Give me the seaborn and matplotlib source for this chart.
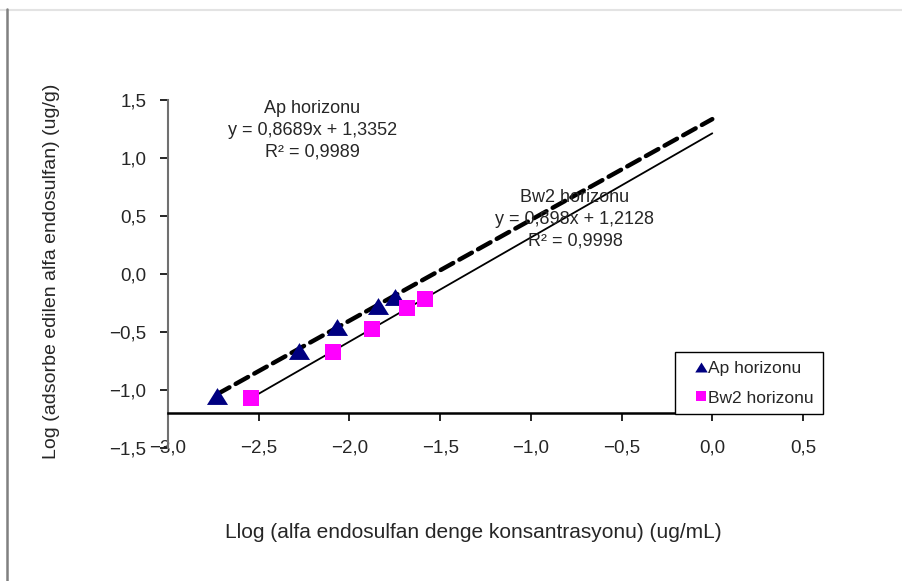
import matplotlib
matplotlib.use("Agg")
import matplotlib.pyplot as plt
from matplotlib.lines import Line2D
import numpy as np
import pandas as pd
import seaborn as sns

# ---- data ----
ap_x = [-2.73, -2.28, -2.07, -1.84, -1.75]
ap_y = [-1.05, -0.66, -0.46, -0.28, -0.20]
bw_x = [-2.54, -2.09, -1.873, -1.68, -1.586]
bw_y = [-1.07, -0.67, -0.47, -0.295, -0.215]
series = ["Ap horizonu", "Bw2 horizonu"]
slopes = [0.8689, 0.898]
intercepts = [1.3352, 1.2128]
eq_texts = ["Ap horizonu\ny = 0,8689x + 1,3352\nR² = 0,9989",
            "Bw2 horizonu\ny = 0,898x + 1,2128\nR² = 0,9998"]
x_ticks = [-3.0, -2.5, -2.0, -1.5, -1.0, -0.5, 0.0, 0.5]
y_ticks = [-1.5, -1.0, -0.5, 0.0, 0.5, 1.0, 1.5]
x_label = "Llog (alfa endosulfan denge konsantrasyonu) (ug/mL)"
y_label = "Log (adsorbe edilen alfa endosulfan) (ug/g)"

ap_df = pd.DataFrame({"x": ap_x, "y": ap_y})
bw_df = pd.DataFrame({"x": bw_x, "y": bw_y})

sns.set_style("white")
plt.rcParams["font.family"] = ["Liberation Sans", "DejaVu Sans"]
plt.rcParams["font.size"] = 13

fig = plt.figure(figsize=(9.02, 5.81), dpi=100)
ax = fig.add_axes([168 / 902, 1 - 448 / 581, 635 / 902, 348 / 581])

tri = [(-1, -0.8), (1, -0.8), (0, 0.8), (-1, -0.8)]
colors = ["#000080", "#FF00FF"]
markers = [tri, "s"]

# trend lines (forward to x = 0)
starts = [min(ap_x), min(bw_x)]
styles = [dict(lw=3.2, ls=(0, (3.2, 1.6)), dash_capstyle="round"), dict(lw=1.3, ls="-")]
for s, m, b, st in zip(starts, slopes, intercepts, styles):
    xs = np.array([s, 0.0])
    ax.plot(xs, m * xs + b, color="black", zorder=2, **st)

sns.scatterplot(data=ap_df, x="x", y="y", color=colors[0], marker=tri,
                s=230, linewidth=0, legend=False, ax=ax, zorder=3)
sns.scatterplot(data=bw_df, x="x", y="y", color=colors[1], marker="s",
                s=130, linewidth=0, legend=False, ax=ax, zorder=3)

ax.text(-2.204, 1.241, eq_texts[0], ha="center", va="center",
        fontsize=13, linespacing=1.38)
ax.text(-0.757, 0.474, eq_texts[1], ha="center", va="center",
        fontsize=13, linespacing=1.38)

ax.set_xlim(-3.0, 0.5)
ax.set_ylim(-1.5, 1.5)
ax.set_xticks(x_ticks)
ax.set_yticks(y_ticks)
ax.set_xticklabels([f"{v:.1f}".replace(".", ",").replace("-", "−") for v in x_ticks])
ax.set_yticklabels([f"{v:.1f}".replace(".", ",").replace("-", "−") for v in y_ticks])
ax.set_xlabel("")
ax.set_ylabel("")

for sp in ["top", "right"]:
    ax.spines[sp].set_visible(False)
ax.spines["left"].set_color("#707070")
ax.spines["left"].set_linewidth(1.5)
ax.spines["bottom"].set_position(("data", -1.2))
ax.spines["bottom"].set_color("black")
ax.spines["bottom"].set_linewidth(1.8)

ax.tick_params(axis="y", direction="out", length=5.5, width=1.2, color="black",
               left=True, pad=10, labelsize=13.5)
ax.tick_params(axis="x", direction="out", length=5.5, width=1.2, color="black",
               bottom=True, pad=13.5, labelsize=13.5)

ax.set_xlabel(x_label, fontsize=15)
ax.set_ylabel(y_label, fontsize=14)
ax.xaxis.set_label_coords((473 - 168) / 635, (448 - 523) / 348)
ax.yaxis.set_label_coords((60 - 168) / 635, (448 - 271) / 348)

handles = [Line2D([], [], ls="none", marker=markers[0], color=colors[0],
                  markersize=9, markeredgewidth=0),
           Line2D([], [], ls="none", marker=markers[1], color=colors[1],
                  markersize=7, markeredgewidth=0)]
leg = ax.legend(handles, series, loc="upper left",
                bbox_to_anchor=(675 / 902, 1 - 352 / 581),
                bbox_transform=fig.transFigure, borderaxespad=0,
                frameon=True, fancybox=False, shadow=False,
                handlelength=2.0, handletextpad=-0.58, labelspacing=0.84,
                borderpad=0.5, fontsize=12.5)
leg.get_frame().set_edgecolor("black")
leg.get_frame().set_linewidth(1.0)
leg.get_frame().set_facecolor("white")
leg.get_frame().set_alpha(1)
leg.set_zorder(10)

# frame lines of the original image
fig.add_artist(Line2D([0, 1], [1 - 9.5 / 581, 1 - 9.5 / 581],
                      transform=fig.transFigure, color="#e3e3e3", lw=1.5))
fig.add_artist(Line2D([6.5 / 902, 6.5 / 902], [0, 1 - 9 / 581],
                      transform=fig.transFigure, color="#808080", lw=1.8))

fig.savefig("out.png", dpi=100, facecolor="white")
